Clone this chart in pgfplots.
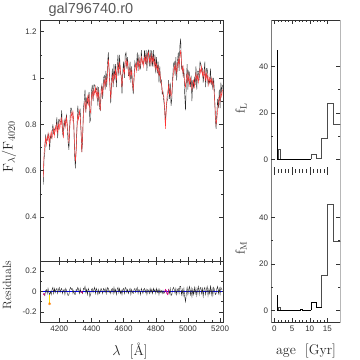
\documentclass[border=0pt]{standalone}
\usepackage{fontspec}
\usepackage{pgfplots}
\pgfplotsset{compat=1.18}
\usepackage{pgfplotstable}
\newfontfamily\tickfont{Liberation Sans}
\pgfplotstableread{
lam mod res obs
4100 0.57 -0.03 0.54
4105 0.67 -0.02 0.65
4110 0.72 -0.04 0.68
4115 0.74 0.01 0.75
4120 0.71 0.02 0.73
4125 0.75 -0.02 0.73
4130 0.73 0.03 0.76
4135 0.76 -0.01 0.75
4140 0.72 -0.03 0.69
4145 0.75 0.00 0.75
4150 0.77 -0.03 0.74
4155 0.74 0.02 0.76
4160 0.76 0.04 0.80
4165 0.78 -0.02 0.76
4170 0.75 0.03 0.78
4175 0.79 -0.01 0.78
4180 0.77 0.02 0.79
4185 0.80 0.03 0.83
4190 0.76 -0.02 0.74
4195 0.80 0.02 0.82
4200 0.78 0.04 0.82
4205 0.82 -0.01 0.81
4210 0.79 0.02 0.81
4215 0.83 0.03 0.86
4220 0.78 -0.02 0.76
4225 0.74 0.01 0.75
4230 0.80 0.02 0.82
4235 0.82 -0.03 0.79
4240 0.79 0.03 0.82
4245 0.83 0.01 0.84
4250 0.80 -0.02 0.78
4255 0.76 -0.04 0.72
4260 0.72 -0.03 0.69
4265 0.78 0.02 0.80
4270 0.83 0.04 0.87
4275 0.85 0.02 0.87
4280 0.82 0.03 0.85
4285 0.86 -0.02 0.84
4290 0.80 0.01 0.81
4295 0.70 -0.03 0.67
4300 0.64 -0.03 0.61
4305 0.68 0.02 0.70
4310 0.78 0.01 0.79
4315 0.84 0.04 0.88
4320 0.82 0.02 0.84
4325 0.86 -0.02 0.84
4330 0.83 0.03 0.86
4335 0.78 -0.01 0.77
4340 0.68 0.00 0.68
4345 0.75 -0.02 0.73
4350 0.84 0.03 0.87
4355 0.88 0.02 0.90
4360 0.90 0.05 0.95
4365 0.86 -0.01 0.85
4370 0.89 0.02 0.91
4375 0.92 -0.03 0.89
4380 0.88 0.03 0.91
4385 0.93 0.01 0.94
4390 0.86 -0.05 0.81
4395 0.85 -0.03 0.82
4400 0.92 0.02 0.94
4405 0.94 0.03 0.97
4410 0.91 -0.01 0.90
4415 0.95 0.02 0.97
4420 0.93 0.04 0.97
4425 0.96 -0.02 0.94
4430 0.92 0.03 0.95
4435 0.95 0.01 0.96
4440 0.91 -0.03 0.88
4445 0.94 0.02 0.96
4450 0.89 -0.02 0.87
4455 0.86 0.00 0.86
4460 0.92 0.03 0.95
4465 0.96 0.01 0.97
4470 0.93 -0.02 0.91
4475 0.97 0.03 1.00
4480 0.99 0.02 1.01
4485 0.96 -0.01 0.95
4490 1.00 0.03 1.03
4495 0.98 -0.02 0.96
4500 1.02 0.04 1.06
4505 1.08 0.03 1.11
4510 1.04 -0.01 1.03
4515 0.96 0.01 0.97
4520 0.91 -0.02 0.89
4525 0.97 0.02 0.99
4530 1.01 0.03 1.04
4535 0.98 -0.02 0.96
4540 1.02 0.04 1.06
4545 1.00 -0.01 0.99
4550 1.04 0.02 1.06
4555 0.99 -0.03 0.96
4560 1.03 0.02 1.05
4565 1.06 0.04 1.10
4570 1.02 -0.01 1.01
4575 1.07 0.03 1.10
4580 1.04 -0.02 1.02
4585 1.00 0.01 1.01
4590 0.96 -0.03 0.93
4595 1.01 0.02 1.03
4600 1.04 0.03 1.07
4605 1.02 -0.02 1.00
4610 1.06 0.04 1.10
4615 1.08 0.03 1.11
4620 1.05 -0.01 1.04
4625 1.07 0.02 1.09
4630 1.03 -0.02 1.01
4635 1.00 0.01 1.01
4640 1.04 0.03 1.07
4645 1.01 -0.03 0.98
4650 1.03 0.02 1.05
4655 0.98 -0.01 0.97
4660 0.95 -0.02 0.93
4665 0.99 0.02 1.01
4670 1.04 0.03 1.07
4675 1.06 -0.01 1.05
4680 1.03 0.02 1.05
4685 1.07 0.04 1.11
4690 1.05 -0.02 1.03
4695 1.08 0.02 1.10
4700 1.04 0.01 1.05
4705 1.07 -0.03 1.04
4710 1.09 0.03 1.12
4715 1.06 0.01 1.07
4720 1.08 -0.02 1.06
4725 1.05 0.02 1.07
4730 1.09 0.03 1.12
4735 1.07 -0.01 1.06
4740 1.10 0.02 1.12
4745 1.06 -0.03 1.03
4750 1.09 0.02 1.11
4755 1.11 0.01 1.12
4760 1.07 -0.02 1.05
4765 1.09 0.03 1.12
4770 1.06 -0.01 1.05
4775 1.10 0.02 1.12
4780 1.07 -0.02 1.05
4785 1.09 0.03 1.12
4790 1.05 0.00 1.05
4795 1.08 0.02 1.10
4800 1.04 -0.02 1.02
4805 1.06 0.03 1.09
4810 1.03 -0.01 1.02
4815 1.05 0.02 1.07
4820 1.01 -0.03 0.98
4825 1.03 0.02 1.05
4830 0.99 -0.01 0.98
4835 0.98 0.01 0.99
4840 0.95 -0.02 0.93
4845 0.93 0.01 0.94
4850 0.92 -0.02 0.90
4855 0.88 -0.01 0.87
4860 0.78 0.02 0.80
4865 0.86 0.01 0.87
4870 0.92 -0.02 0.90
4875 0.94 -0.03 0.91
4880 0.97 0.02 0.99
4885 0.93 -0.02 0.91
4890 0.95 0.03 0.98
4895 0.92 -0.04 0.88
4900 0.94 -0.03 0.91
4905 0.98 0.02 1.00
4910 1.02 0.04 1.06
4915 1.05 0.02 1.07
4920 1.03 -0.02 1.01
4925 1.06 0.03 1.09
4930 1.02 -0.03 0.99
4935 1.05 0.02 1.07
4940 1.08 0.03 1.11
4945 1.05 -0.02 1.03
4950 1.09 0.05 1.14
4955 1.12 0.05 1.17
4960 1.07 -0.03 1.04
4965 1.03 0.02 1.05
4970 1.05 -0.04 1.01
4975 1.01 0.03 1.04
4980 0.98 -0.05 0.93
4985 0.96 -0.10 0.86
4990 1.00 -0.02 0.98
4995 1.02 0.04 1.06
5000 0.98 -0.03 0.95
5005 1.01 0.02 1.03
5010 0.97 0.05 1.02
5015 1.00 -0.04 0.96
5020 0.98 0.03 1.01
5025 0.95 -0.05 0.90
5030 0.97 0.02 0.99
5035 0.99 -0.03 0.96
5040 0.96 0.04 1.00
5045 0.99 -0.02 0.97
5050 1.02 0.03 1.05
5055 0.99 -0.04 0.95
5060 1.01 0.02 1.03
5065 0.98 0.05 1.03
5070 1.02 -0.03 0.99
5075 1.04 0.03 1.07
5080 1.02 0.04 1.06
5085 1.05 -0.02 1.03
5090 1.01 0.03 1.04
5095 1.03 -0.05 0.98
5100 1.00 0.02 1.02
5105 1.03 0.04 1.07
5110 0.99 -0.03 0.96
5115 1.02 0.02 1.04
5120 0.99 0.05 1.04
5125 1.01 -0.04 0.97
5130 0.97 0.02 0.99
5135 1.00 -0.02 0.98
5140 0.98 0.06 1.04
5145 1.00 -0.03 0.97
5150 0.97 0.03 1.00
5155 0.99 -0.04 0.95
5160 0.96 0.04 1.00
5165 0.92 0.02 0.94
5170 0.86 -0.03 0.83
5175 0.80 -0.02 0.78
5180 0.82 0.03 0.85
5185 0.86 0.05 0.91
5190 0.89 -0.02 0.87
5195 0.92 0.03 0.95
5200 0.90 -0.03 0.87
5205 0.94 0.04 0.98
5210 0.92 0.02 0.94
5215 0.95 0.02 0.97
}\spec
\pgfplotsset{
  pg/.style={
    scale only axis, anchor=south west,
    tick align=inside,
    xtick pos=both, ytick pos=both,
    xticklabel pos=lower, yticklabel pos=left,
    axis line style={black!80, line width=0.5pt},
    every tick/.style={black!80, line width=0.4pt},
    major tick length=4pt, minor tick length=2pt,
    tick label style={font=\tickfont\fontsize{8}{9}\selectfont, text=black!80},
    /pgf/number format/assume math mode=true,
    /pgf/number format/1000 sep={},
  }
}
\begin{document}
\begin{tikzpicture}
\path[use as bounding box] (0pt,0pt) rectangle (360pt,360pt);
% main spectrum
\begin{axis}[pg, at={(40pt,99pt)}, width=183.3pt, height=241pt,
  xmin=4080, xmax=5220, ymin=0.21, ymax=1.25,
  xtick={4200,4400,...,5200}, minor x tick num=3, xticklabels={},
  ytick={0.4,0.6,0.8,1,1.2}, minor y tick num=1]
\addplot[black!85, line width=0.4pt] table[x=lam, y=obs]{\spec};
\addplot[red!80!white, line width=0.4pt] table[x=lam, y=mod]{\spec};
\end{axis}
% residuals
\begin{axis}[pg, at={(40pt,38pt)}, width=183.3pt, height=61pt,
  xmin=4080, xmax=5220, ymin=-0.3, ymax=0.3,
  xtick={4200,4400,...,5200}, minor x tick num=3,
  ytick={-0.2,0,0.2}, minor y tick num=1]
\addplot[blue, line width=0.4pt] coordinates {(4100,0) (5215,0)};
\addplot[black!85, line width=0.4pt] table[x=lam, y=res]{\spec};
\addplot[magenta, line width=0.6pt] coordinates {(4100,-0.03) (4105,-0.02) (4110,-0.04)};
\addplot[magenta, line width=0.6pt] coordinates {(4335,-0.01) (4340,0.00) (4345,-0.02)};
\addplot[magenta, line width=0.6pt] coordinates {(4855,-0.01) (4860,0.02) (4865,0.01) (4870,-0.02) (4875,-0.03) (4880,0.02)};
\addplot[yellow!85!orange, line width=0.5pt] coordinates {(4140,-0.03) (4140,-0.12)};
\addplot[only marks, mark=asterisk, orange, mark size=1.5pt] coordinates {(4140,-0.12)};
\end{axis}
% f_L
\begin{axis}[pg, at={(271.5pt,189pt)}, width=69pt, height=151pt,
  axis line style={draw=none},
  xmin=-0.8, xmax=18.7, ymin=-5, ymax=60,
  xtick={0,5,10,15}, minor x tick num=4, xticklabels={},
  ytick={0,20,40}, minor y tick num=1]
\draw[black!80, line width=0.5pt] (rel axis cs:0,0) -- (rel axis cs:0,1) -- (rel axis cs:1,1) -- (rel axis cs:1,0);
\addplot[black, line width=0.9pt] coordinates {(0.76,0) (0.76,47)};
\addplot[black!70, line width=0.6pt] coordinates {(1.2,0) (1.2,4.3) (1.6,4.3) (1.6,0)};
\addplot[black, line width=0.6pt] coordinates {(0.76,0) (10.4,0)};
\addplot[black!70, line width=0.6pt] coordinates {(10.4,0) (10.4,2) (12.0,2) (12.0,0.5) (13.4,0.5) (13.4,9) (15.0,9) (15.0,24) (16.7,24) (16.7,15) (19,15)};
\end{axis}
% f_M
\begin{axis}[pg, at={(271.5pt,38pt)}, width=69pt, height=151pt,
  axis line style={draw=none},
  xmin=-0.8, xmax=18.7, ymin=-5, ymax=60,
  xtick={0,5,10,15}, minor x tick num=4,
  ytick={0,20,40}, minor y tick num=1]
\draw[black!80, line width=0.5pt] (rel axis cs:0,1) -- (rel axis cs:0,0) -- (rel axis cs:1,0) -- (rel axis cs:1,1);
\addplot[black, line width=0.9pt] coordinates {(0.76,0) (0.76,6.8)};
\addplot[black!70, line width=0.6pt] coordinates {(1.2,0) (1.2,1.5) (1.6,1.5) (1.6,0)};
\addplot[black, line width=0.6pt] coordinates {(0.76,0) (7.2,0) (7.2,0.4) (8.0,0.4) (8.0,0) (10.4,0)};
\addplot[black, line width=0.6pt] coordinates {(10.4,0) (10.4,3.5) (12.0,3.5) (12.0,1.3) (13.4,1.3)};
\addplot[black!70, line width=0.6pt] coordinates {(13.4,1.3) (13.4,15) (15.0,15) (15.0,45.5) (16.7,45.5) (16.7,29.8) (19,29.8)};
\end{axis}
% labels
\node[anchor=west, font=\tickfont\fontsize{14.5}{16}\selectfont, text=black!65] at (45pt,350pt) {gal796740.r0};
\node[rotate=90, font=\fontsize{14}{16}\selectfont, text=black!85] at (9pt,213pt) {$\mathrm{F}_\lambda/\mathrm{F}_{4020}$};
\node[rotate=90, font=\fontsize{12}{14}\selectfont, text=black!85] at (7pt,75pt) {Residuals};
\node[font=\fontsize{14}{16}\selectfont, text=black!85] at (130pt,9pt) {$\lambda$\ \ [Å]};
\node[font=\fontsize{14}{16}\selectfont, text=black!85] at (306pt,9pt) {age\ \ [Gyr]};
\node[rotate=90, font=\fontsize{13}{15}\selectfont, text=black!85] at (241pt,252pt) {$\mathrm{f}_\mathrm{L}$};
\node[rotate=90, font=\fontsize{13}{15}\selectfont, text=black!85] at (241pt,112pt) {$\mathrm{f}_\mathrm{M}$};
\end{tikzpicture}
\end{document}
